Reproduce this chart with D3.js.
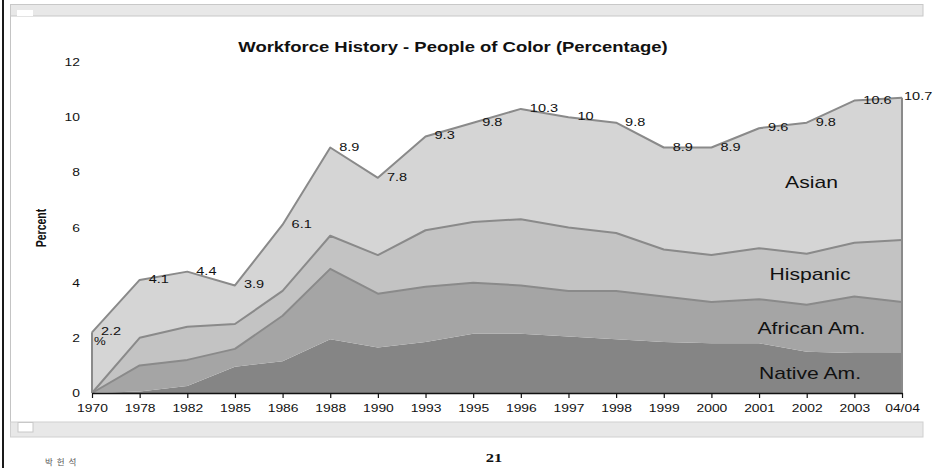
<!DOCTYPE html>
<html>
<head>
<meta charset="utf-8">
<script src="https://cdn.jsdelivr.net/npm/d3@7/dist/d3.min.js"></script>
<style>
  html, body { margin: 0; padding: 0; background: #fff; }
  svg { display: block; }
  text { font-family: "Liberation Sans", Arial, sans-serif; fill: #111; }
</style>
</head>
<body>
<svg id="chart" width="934" height="468"></svg>
<script>
// Workforce share by group, stacked (percent of workforce)
const years = ["1970","1978","1982","1985","1986","1988","1990","1993","1995","1996",
               "1997","1998","1999","2000","2001","2002","2003","04/04"];
const nativeAm  = [0, 0.05, 0.25, 0.95, 1.15, 1.95, 1.65, 1.85, 2.15, 2.15, 2.05, 1.95, 1.85, 1.8, 1.8, 1.5, 1.45, 1.45];
const africanAm = [0, 0.95, 0.95, 0.65, 1.65, 2.55, 1.95, 2.0, 1.85, 1.75, 1.65, 1.75, 1.65, 1.5, 1.6, 1.7, 2.05, 1.85];
const hispanic  = [0, 1.0, 1.2, 0.9, 0.9, 1.2, 1.4, 2.05, 2.2, 2.4, 2.3, 2.1, 1.7, 1.7, 1.85, 1.85, 1.95, 2.25];
const asian     = [2.2, 2.1, 2.0, 1.4, 2.4, 3.2, 2.8, 3.4, 3.6, 4.0, 4.0, 4.0, 3.7, 3.9, 4.35, 4.75, 5.15, 5.15];
const yTicks = [0, 2, 4, 6, 8, 10, 12];

const groupNames = ["Native Am.", "African Am.", "Hispanic", "Asian"];
const keys = ["native", "african", "hispanic", "asian"];
const fills = { native: "#858585", african: "#a5a5a5", hispanic: "#c3c3c3", asian: "#d5d5d5" };
const lineColor = "#8a8a8a";
const SX = 1.32; // horizontal stretch applied to all lettering

const table = years.map((yr, i) => ({
  year: yr, i,
  native: nativeAm[i], african: africanAm[i], hispanic: hispanic[i], asian: asian[i]
}));

const svg = d3.select("#chart");

// page frame
svg.append("rect").attr("x", 2).attr("y", 0).attr("width", 2).attr("height", 468).attr("fill", "#1a1a1a");
svg.append("line").attr("x1", 10.5).attr("x2", 10.5).attr("y1", 4).attr("y2", 437).attr("stroke", "#c4c4c4");
svg.append("rect").attr("x", 10.5).attr("y", 4.5).attr("width", 912.5).attr("height", 11.5)
  .attr("fill", "#e8e8e8").attr("stroke", "#c8c8c8");
svg.append("rect").attr("x", 17).attr("y", 10).attr("width", 16).attr("height", 6).attr("fill", "#fff");
svg.append("rect").attr("x", 10.5).attr("y", 422).attr("width", 912.5).attr("height", 15)
  .attr("fill", "#e8e8e8").attr("stroke", "#d0d0d0");
svg.append("rect").attr("x", 18).attr("y", 422.5).attr("width", 15).attr("height", 9.5)
  .attr("fill", "#fff").attr("stroke", "#c8c8c8");

// stretched text helper
function label(g, x, y, txt, anchor, size, weight) {
  return g.append("text")
    .attr("transform", `translate(${x},${y}) scale(${SX},1)`)
    .attr("text-anchor", anchor || "start")
    .attr("font-size", size)
    .attr("font-weight", weight || "normal")
    .text(txt);
}

const xIdx = d3.scaleLinear().domain([0, years.length - 1]).range([92, 902]);
const xPt = d3.scalePoint().domain(years).range([92, 902]);
const y = d3.scaleLinear().domain([0, 12]).range([393, 62]);

const series = d3.stack().keys(keys)(table);

const g = svg.append("g");

const area = d3.area()
  .x(d => xIdx(d.data.i))
  .y0(d => y(d[0]))
  .y1(d => y(d[1]));

g.selectAll("path.layer").data(series).join("path")
  .attr("class", "layer")
  .attr("fill", s => fills[s.key])
  .attr("d", area);

// boundary lines on top of the upper three layers
const topLine = d3.line().x(d => xIdx(d.data.i)).y(d => y(d[1]));
g.selectAll("path.edge").data(series.slice(1)).join("path")
  .attr("class", "edge")
  .attr("fill", "none")
  .attr("stroke", lineColor)
  .attr("stroke-width", 2)
  .attr("stroke-linejoin", "round")
  .attr("d", topLine);

// vertical edges at both ends of the stack
const topLayer = series[series.length - 1];
[0, years.length - 1].forEach(i => {
  g.append("line")
    .attr("x1", xIdx(i)).attr("x2", xIdx(i))
    .attr("y1", y(topLayer[i][1])).attr("y2", y(0))
    .attr("stroke", lineColor).attr("stroke-width", 2);
});

// x axis
const xAxis = d3.axisBottom(xPt).tickSize(5).tickSizeOuter(0).tickPadding(6);
const ax = svg.append("g").attr("transform", `translate(0,${y(0)})`).call(xAxis);
ax.select(".domain").attr("stroke", "#111").attr("stroke-width", 1.5);
ax.selectAll(".tick line").attr("stroke", "#111").attr("stroke-width", 1.2);
ax.selectAll(".tick text").remove();
ax.selectAll(".tick").each(function(d) {
  label(d3.select(this), 0, 19, d, "middle", 10.5);
});

// y tick labels
const ay = svg.append("g");
yTicks.forEach(t => label(ay, 80, y(t) + 4, t, "end", 10.5));

// axis title
svg.append("text")
  .attr("transform", `translate(46,228) rotate(-90) scale(1,${SX})`)
  .attr("text-anchor", "middle")
  .attr("font-size", 10.5)
  .attr("font-weight", "bold")
  .text("Percent");

// chart title
label(svg, 453, 52, "Workforce History - People of Color (Percentage)", "middle", 14, "bold");

// total value labels
const fmt = d3.format(".1~f");
const tl = svg.append("g");
topLayer.forEach((d, i) => {
  const last = i === years.length - 1;
  label(tl, xIdx(i) + (last ? 2 : 9), y(d[1]) + (last ? 2 : 3), fmt(d[1]), "start", 11);
});
label(tl, xIdx(0) + 2, y(topLayer[0][1]) + 13, "%", "start", 10);

// layer names
const names = [
  { name: groupNames[3], i: 15.1, v: 7.45 },
  { name: groupNames[2], i: 15.07, v: 4.1 },
  { name: groupNames[1], i: 15.1, v: 2.13 },
  { name: groupNames[0], i: 15.07, v: 0.52 }
];
names.forEach(n => label(svg, xIdx(n.i), y(n.v), n.name, "middle", 16));

// footer
svg.append("text").attr("x", 45).attr("y", 465).attr("font-size", 8.5).style("fill", "#555")
  .style("letter-spacing", "1px")
  .style("font-family", "'Noto Sans CJK KR', sans-serif").text("박 헌 석");
svg.append("text")
  .attr("transform", `translate(494,462) scale(${SX},1)`)
  .attr("text-anchor", "middle")
  .attr("font-size", 12.5).attr("font-weight", "bold")
  .style("font-family", "'Liberation Serif', serif")
  .text("21");
</script>
</body>
</html>
